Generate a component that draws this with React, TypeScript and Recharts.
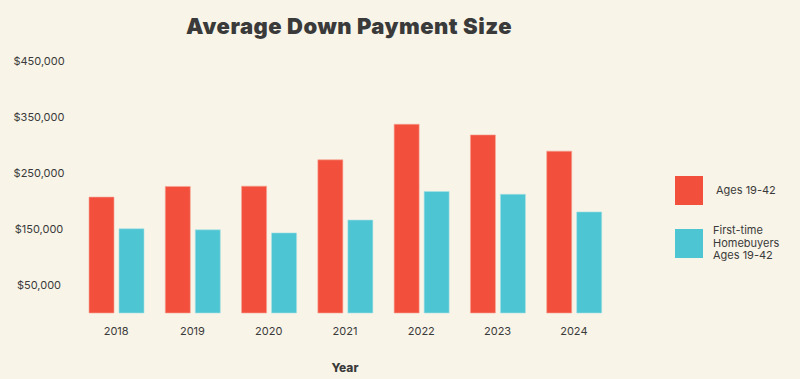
import { BarChart, Bar, XAxis, YAxis } from "recharts";

const YEARS = ["2018", "2019", "2020", "2021", "2022", "2023", "2024"];
const AGES_19_42 = [207000, 226000, 226500, 273500, 337000, 318000, 289000];
const FIRST_TIME = [150500, 148500, 143000, 166000, 217000, 212000, 180500];
const Y_TICKS = [50000, 150000, 250000, 350000, 450000];

const RED = "#f2503c";
const CYAN = "#4dc5d2";
const TEXT = "#3a3a3a";
const BG = "#f8f4e8";
const FONT = "Inter, 'Noto Sans', sans-serif";

const data = YEARS.map((year, i) => ({
  year,
  ages: AGES_19_42[i],
  firstTime: FIRST_TIME[i],
}));

const fmtMoney = (v: number) => `$${v.toLocaleString("en-US")}`;

function YTick({ x, y, payload }: any) {
  return (
    <text x={x - 31} y={y} dy={4} textAnchor="middle" fontSize={11} fill={TEXT} fontFamily={FONT}>
      {fmtMoney(payload.value)}
    </text>
  );
}

function XTick({ x, y, payload }: any) {
  return (
    <text x={x} y={y} dy={14} textAnchor="middle" fontSize={11} fill={TEXT} fontFamily={FONT}>
      {payload.value}
    </text>
  );
}

function LegendBox() {
  const item = (color: string, lines: string[]) => (
    <div style={{ display: "flex", alignItems: "center", height: 30, marginBottom: 23 }}>
      <div style={{ width: 28, height: 29, background: color, flexShrink: 0 }} />
      <div style={{ marginLeft: lines.length > 1 ? 10 : 13, fontSize: 11, lineHeight: "12.5px", color: TEXT, fontFamily: FONT }}>
        {lines.map((l) => (
          <div key={l}>{l}</div>
        ))}
      </div>
    </div>
  );
  return (
    <div style={{ position: "absolute", left: 675, top: 175, width: 125 }}>
      {item(RED, ["Ages 19-42"])}
      {item(CYAN, ["First-time", "Homebuyers", "Ages 19-42"])}
    </div>
  );
}

export default function App() {
  return (
    <div style={{ position: "fixed", left: 0, top: 0, width: 800, height: 379, background: BG, overflow: "hidden" }}>
      <div
        style={{
          position: "absolute",
          top: 13,
          left: 0,
          width: 698,
          textAlign: "center",
          fontFamily: FONT,
          fontWeight: 900,
          fontSize: 22,
          letterSpacing: 0.5,
          color: TEXT,
        }}
      >
        Average Down Payment Size
      </div>
      <BarChart
        width={800}
        height={379}
        data={data}
        margin={{ top: 61, right: 188, bottom: 0, left: 8 }}
        barGap={5}
        barSize={25}
      >
        <XAxis
          dataKey="year"
          axisLine={false}
          tickLine={false}
          height={66}
          tick={<XTick />}
          label={{
            value: "Year",
            position: "insideBottom",
            offset: 7,
            fill: TEXT,
            fontSize: 12,
            fontWeight: 800,
            fontFamily: FONT,
          }}
        />
        <YAxis
          width={70}
          domain={[0, 450000]}
          ticks={Y_TICKS}
          axisLine={false}
          tickLine={false}
          tick={<YTick />}
        />
        <Bar dataKey="ages" name="Ages 19-42" fill={RED} stroke="#f8a294" strokeWidth={0.6} isAnimationActive={false} />
        <Bar dataKey="firstTime" name="First-time Homebuyers Ages 19-42" fill={CYAN} stroke="#a9e0e6" strokeWidth={0.6} isAnimationActive={false} />
      </BarChart>
      <LegendBox />
    </div>
  );
}
